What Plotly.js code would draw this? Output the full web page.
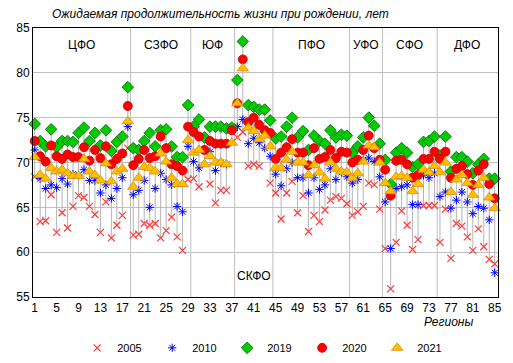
<!DOCTYPE html>
<html><head><meta charset="utf-8">
<script src="https://cdn.plot.ly/plotly-3.0.1.min.js"></script>
<style>html,body{margin:0;padding:0;background:#fff}#c{width:513px;height:363px}</style>
</head><body><div id="c"></div>
<script>
const regions = Array.from({length:85},(_,i)=>i+1);
const xTicks = [1,5,9,13,17,21,25,29,33,37,41,45,49,53,57,61,65,69,73,77,81,85];
const yTicks = [55,60,65,70,75,80,85];
const years = ["2005","2010","2019","2020","2021"];
const groupNames = ["ЦФО","СЗФО","ЮФ","СКФО","ПФО","УФО","СФО","ДФО"];
const groupSizes = [18,11,8,7,14,6,10,11];

const y2005 = [68.4,63.4,63.5,66.4,62.2,64.4,62.7,65.1,66.3,66.1,65.1,64.2,62.2,65.6,61.6,63.0,64.1,71.6,61.9,62.0,
63.2,63.0,63.2,61.6,62.4,63.9,61.7,60.2,68.1,68.2,67.3,null,67.6,65.5,66.9,66.9,null,72.8,73.4,69.6,
69.8,69.6,null,67.7,66.6,63.7,66.6,67.9,64.4,66.3,62.3,64.1,63.4,64.7,65.8,66.2,66.0,65.4,64.1,64.5,
65.1,67.7,67.5,64.8,60.4,55.9,61.1,64.6,63.0,60.3,61.4,65.2,65.2,65.2,61.1,64.8,59.3,63.2,62.9,61.7,
60.2,62.6,60.6,59.2,58.7];
const y2010 = [71.4,68.2,67.1,67.5,67.2,68.2,67.6,68.7,68.6,69.2,68.0,68.0,66.6,67.5,66.0,67.1,68.3,74.0,66.4,66.9,
68.0,65.0,67.1,68.8,68.1,67.5,65.1,64.5,71.8,70.1,69.4,null,71.2,69.1,70.0,69.8,null,74.0,74.8,72.1,
72.7,72.2,71.6,70.7,68.7,67.4,69.3,70.0,68.3,68.3,66.6,68.3,67.0,67.5,69.3,68.1,68.9,68.4,67.7,68.1,
70.3,70.5,70.1,68.4,65.6,60.4,67.1,67.3,67.5,65.3,65.3,68.6,68.3,68.8,66.2,66.7,64.9,65.8,66.7,65.6,
64.3,65.1,64.9,63.6,57.7];
const y2019 = [74.3,72.4,71.8,73.7,71.7,72.4,72.4,72.3,73.3,73.9,72.4,73.3,71.9,73.6,71.3,72.3,72.9,78.4,71.6,71.4,
72.4,73.3,71.8,73.6,73.7,71.8,70.6,70.6,76.4,74.0,74.8,72.8,74.0,74.0,74.0,73.8,73.9,79.2,83.5,76.4,
76.2,75.9,75.9,74.7,72.7,72.9,74.0,75.0,72.8,73.5,71.4,73.0,72.4,72.1,73.6,72.8,73.1,73.0,71.1,71.8,
72.8,75.0,74.1,72.1,70.3,67.6,71.1,71.6,71.1,69.5,69.8,72.3,72.4,72.9,70.8,72.9,69.0,70.6,70.6,70.1,
68.8,69.8,70.4,68.2,68.2];
const y2020 = [72.4,70.7,70.1,71.9,70.7,70.4,70.9,70.6,70.6,71.7,70.2,71.4,70.5,71.8,69.8,70.4,71.0,76.3,69.7,70.4,
71.4,70.5,70.7,72.9,71.6,69.8,69.6,69.1,74.0,73.4,72.9,71.4,72.4,72.1,72.1,72.1,73.6,76.6,81.5,74.5,
75.0,74.2,73.6,73.3,70.4,71.1,71.7,72.6,71.1,71.1,69.7,71.6,70.4,70.6,71.4,70.5,71.2,71.1,70.0,70.3,
71.4,73.0,71.6,70.3,69.2,66.3,70.2,70.3,69.8,68.3,68.6,70.4,70.4,71.2,70.4,71.2,68.3,69.3,69.6,68.7,
67.5,69.1,69.8,67.6,66.0];
const y2021 = [70.6,68.6,68.2,69.4,69.0,69.2,68.8,68.5,68.5,70.4,69.0,68.6,68.0,69.9,67.9,69.0,69.3,74.6,67.3,68.3,
69.5,69.4,69.0,71.0,70.1,68.3,67.6,67.6,72.5,71.1,71.4,69.8,70.7,70.0,70.0,69.8,72.2,76.6,80.5,73.9,
73.5,72.6,73.0,71.8,69.4,69.4,70.3,71.2,70.0,70.0,68.6,69.7,68.9,68.2,70.0,69.3,69.0,68.9,68.3,68.8,
70.1,71.9,71.7,70.0,67.7,66.8,68.4,68.5,68.3,66.8,67.6,69.2,68.9,69.6,68.9,70.0,66.7,68.1,68.6,67.7,
66.4,67.5,68.3,66.1,64.9];

const series = [y2005,y2010,y2019,y2020,y2021];

// high-low lines
const hlx = [], hly = [];
regions.forEach((r,i)=>{
  const vals = series.map(s=>s[i]).filter(v=>v!==null);
  hlx.push(r,r,null);
  hly.push(Math.min(...vals),Math.max(...vals),null);
});

const styles = [
  {symbol:'x-thin-open', size:7, color:'#ff3b3b', line:{color:'#ff3b3b',width:1.2}},
  {symbol:'asterisk-open', size:7, color:'#0000ff', line:{color:'#0000ff',width:1}},
  {symbol:'diamond', size:9, color:'#00cc00', line:{color:'#006600',width:0.8}},
  {symbol:'circle', size:9, color:'#ff0000', line:{color:'#c00000',width:0.8}},
  {symbol:'triangle-up', size:10, color:'#ffc000', line:{color:'#e08a00',width:0.8}}
];

const traces = [{x:hlx,y:hly,mode:'lines',line:{color:'#b4b4b4',width:1},hoverinfo:'skip',showlegend:false}];
series.forEach((s,k)=>{
  traces.push({x:regions,y:s,name:years[k],mode:'markers',type:'scatter',marker:styles[k],cliponaxis:false});
});

// group boundaries and centers
const shapes = [], annotations = [];
let start = 1;
groupSizes.forEach((n,g)=>{
  const end = start + n - 1;
  if (g < groupSizes.length-1) {
    shapes.push({type:'line',xref:'x',yref:'paper',x0:end+0.5,x1:end+0.5,y0:0,y1:1,line:{color:'#c0c0c0',width:1},layer:'below'});
  }
  const cx = (start+end)/2;
  const below = groupNames[g]==="СКФО";
  annotations.push({xref:'x',yref:'y',x:cx,y: below?57.3:83.1,text:groupNames[g],showarrow:false,
    font:{family:'Liberation Sans, Arial, sans-serif',size:12,color:'#000'}});
  start = end + 1;
});
annotations.push({xref:'paper',yref:'paper',x:0.95,y:-0.06,xanchor:'right',yanchor:'top',text:'<i>Регионы</i>',showarrow:false,
  font:{family:'Liberation Sans, Arial, sans-serif',size:12,color:'#000'}});

const layout = {
  width:513,height:363,
  margin:{l:33,r:15,t:28,b:66,pad:0,autoexpand:false},
  paper_bgcolor:'#fff',plot_bgcolor:'#fff',
  font:{family:'Liberation Sans, Arial, sans-serif',size:12,color:'#000'},
  title:{text:'<i>Ожидаемая продолжительность жизни при рождении, лет</i>',x:52/513,xanchor:'left',y:1-14/363,yanchor:'middle',
    font:{family:'Liberation Sans, Arial, sans-serif',size:12,color:'#000'}},
  xaxis:{range:[0.69,85.6],tickvals:xTicks,ticktext:xTicks.map(String),showgrid:false,zeroline:false,automargin:false,
    showline:true,linecolor:'#000',linewidth:1,mirror:true,ticks:'',tickfont:{size:12}},
  yaxis:{range:[55,85],tickvals:yTicks,showgrid:true,gridcolor:'#c0c0c0',gridwidth:1,zeroline:false,automargin:false,
    showline:true,linecolor:'#000',linewidth:1,mirror:true,ticks:'',tickfont:{size:12}},
  shapes:shapes,annotations:annotations,
  legend:{orientation:'h',x:0.095,xanchor:'left',y:-0.135,yanchor:'top',entrywidth:30,entrywidthmode:'pixels',
    font:{size:11},itemwidth:30,tracegroupgap:0},
  showlegend:true
};
Plotly.newPlot('c',traces,layout,{displayModeBar:false,staticPlot:true});
</script></body></html>
